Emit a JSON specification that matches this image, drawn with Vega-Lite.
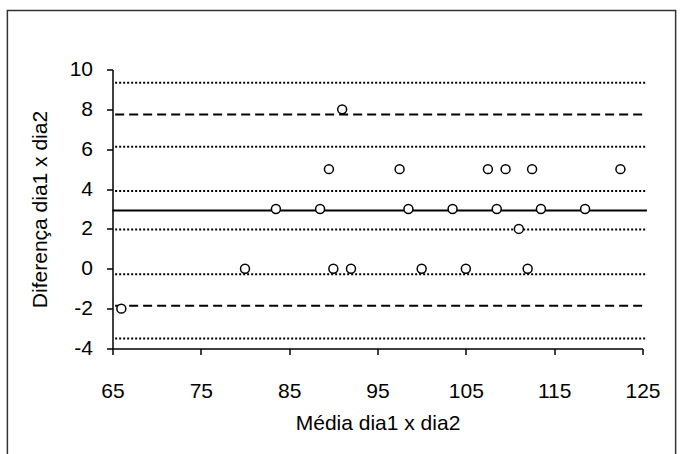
{
  "$schema": "https://vega.github.io/schema/vega-lite/v6.json",
  "width": 530,
  "height": 279,
  "autosize": "none",
  "padding": {"left": 112.5, "top": 69.5, "right": 37.5, "bottom": 105.5},
  "background": "white",
  "config": {
    "view": {"stroke": null},
    "font": "Liberation Sans",
    "axis": {
      "grid": false,
      "domainColor": "black",
      "domainWidth": 1.5,
      "tickColor": "black",
      "tickWidth": 1.5,
      "tickSize": 6,
      "labelColor": "black",
      "labelFont": "Liberation Sans",
      "labelFontSize": 21,
      "labelOverlap": false,
      "labelSeparation": 0,
      "titleColor": "black",
      "titleFont": "Liberation Sans",
      "titleFontSize": 21,
      "titleFontWeight": "normal"
    }
  },
  "datasets": {
    "points": [
      {"media": 66, "diferenca": -2},
      {"media": 80, "diferenca": 0},
      {"media": 83.5, "diferenca": 3},
      {"media": 88.5, "diferenca": 3},
      {"media": 89.5, "diferenca": 5},
      {"media": 90, "diferenca": 0},
      {"media": 91, "diferenca": 8},
      {"media": 92, "diferenca": 0},
      {"media": 97.5, "diferenca": 5},
      {"media": 98.5, "diferenca": 3},
      {"media": 100, "diferenca": 0},
      {"media": 103.5, "diferenca": 3},
      {"media": 105, "diferenca": 0},
      {"media": 107.5, "diferenca": 5},
      {"media": 108.5, "diferenca": 3},
      {"media": 109.5, "diferenca": 5},
      {"media": 111, "diferenca": 2},
      {"media": 112, "diferenca": 0},
      {"media": 112.5, "diferenca": 5},
      {"media": 113.5, "diferenca": 3},
      {"media": 118.5, "diferenca": 3},
      {"media": 122.5, "diferenca": 5}
    ],
    "lines": [
      {"valor": 9.33, "tipo": "ic"},
      {"valor": 7.74, "tipo": "limite"},
      {"valor": 6.12, "tipo": "ic"},
      {"valor": 3.9, "tipo": "ic"},
      {"valor": 2.93, "tipo": "media"},
      {"valor": 1.97, "tipo": "ic"},
      {"valor": -0.27, "tipo": "ic"},
      {"valor": -1.86, "tipo": "limite"},
      {"valor": -3.5, "tipo": "ic"}
    ],
    "frame": [
      {"x0": 53.1, "x1": 128.75, "y0": 12.96, "y1": -9.5}
    ]
  },
  "layer": [
    {
      "data": {"name": "frame"},
      "mark": {"type": "rect", "filled": false, "stroke": "#333333", "strokeWidth": 1.5, "clip": false},
      "encoding": {
        "x": {
          "field": "x0", "type": "quantitative",
          "scale": {"domain": [65, 125], "nice": false, "zero": false},
          "axis": {"title": "Média dia1 x dia2", "values": [65, 75, 85, 95, 105, 115, 125], "labelPadding": 26, "titlePadding": 11, "labelFlush": false}
        },
        "x2": {"field": "x1"},
        "y": {
          "field": "y0", "type": "quantitative",
          "scale": {"domain": [-4, 10], "nice": false, "zero": false},
          "axis": {"title": "Diferença dia1 x dia2", "tickCount": 7, "labelPadding": 14, "titlePadding": 19, "labelOverlap": false, "labelSeparation": 0, "labelFlush": false, "labelBound": false, "format": "d", "labelExpr": "replace(datum.label, '\u2212', '-')"}
        },
        "y2": {"field": "y1"}
      }
    },
    {
      "data": {"name": "lines"},
      "transform": [{"filter": "datum.tipo === 'ic'"}],
      "mark": {"type": "rule", "color": "black", "strokeWidth": 2, "strokeDash": [2, 2]},
      "encoding": {
        "y": {"field": "valor", "type": "quantitative"},
        "x": {"datum": 65.3, "type": "quantitative"},
        "x2": {"datum": 125.5}
      }
    },
    {
      "data": {"name": "lines"},
      "transform": [{"filter": "datum.tipo === 'limite'"}],
      "mark": {"type": "rule", "color": "black", "strokeWidth": 2, "strokeDash": [9, 5]},
      "encoding": {
        "y": {"field": "valor", "type": "quantitative"},
        "x": {"datum": 65.3, "type": "quantitative"},
        "x2": {"datum": 125.5}
      }
    },
    {
      "data": {"name": "lines"},
      "transform": [{"filter": "datum.tipo === 'media'"}],
      "mark": {"type": "rule", "color": "black", "strokeWidth": 2},
      "encoding": {
        "y": {"field": "valor", "type": "quantitative"},
        "x": {"datum": 65, "type": "quantitative"},
        "x2": {"datum": 125.5}
      }
    },
    {
      "data": {"name": "points"},
      "mark": {"type": "point", "shape": "circle", "filled": false, "fill": "white", "fillOpacity": 1, "stroke": "black", "strokeWidth": 1.5, "size": 80, "opacity": 1},
      "encoding": {
        "x": {"field": "media", "type": "quantitative"},
        "y": {"field": "diferenca", "type": "quantitative"}
      }
    }
  ]
}
